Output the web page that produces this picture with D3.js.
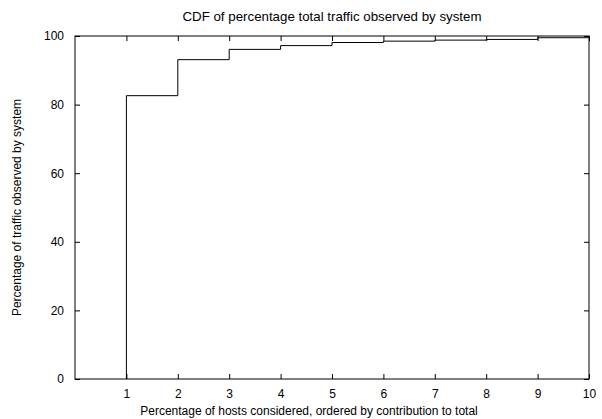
<!DOCTYPE html>
<html>
<head>
<meta charset="utf-8">
<script src="https://cdn.jsdelivr.net/npm/d3@7"></script>
<style>
  html, body { margin: 0; padding: 0; background: #fff; }
  svg text { font-family: "Liberation Sans", Arial, sans-serif; fill: #000; }
</style>
</head>
<body>
<svg id="chart" width="602" height="419"></svg>
<script>
// Data
const hosts = [1, 2, 3, 4, 5, 6, 7, 8, 9, 10];
const traffic = [0, 82.6, 93.1, 96.1, 97.2, 98.1, 98.5, 98.8, 99.0, 99.5];
const xTicks = [1, 2, 3, 4, 5, 6, 7, 8, 9, 10];
const yTicks = [0, 20, 40, 60, 80, 100];
const title = "CDF of percentage total traffic observed by system";
const xLabel = "Percentage of hosts considered, ordered by contribution to total";
const yLabel = "Percentage of traffic observed by system";

const svg = d3.select("#chart");
const margin = { left: 75, right: 13, top: 36, bottom: 40 };
const W = 602, H = 419;
const x = d3.scaleLinear().domain([0, 10]).range([margin.left, W - margin.right]);
const y = d3.scaleLinear().domain([0, 100]).range([H - margin.bottom, margin.top]);

const tickLen = 5;
const fs = 12;

// Bottom axis
const gx = svg.append("g").attr("transform", `translate(0,${y(0)})`)
  .call(d3.axisBottom(x).tickValues(xTicks).tickSizeInner(-tickLen).tickSizeOuter(0).tickPadding(10));
// Top axis ticks
const gxt = svg.append("g").attr("transform", `translate(0,${y(100)})`)
  .call(d3.axisTop(x).tickValues(xTicks).tickSizeInner(-tickLen).tickSizeOuter(0).tickFormat(""));
// Left axis
const gy = svg.append("g").attr("transform", `translate(${x(0)},0)`)
  .call(d3.axisLeft(y).tickValues(yTicks).tickSizeInner(-tickLen).tickSizeOuter(0).tickPadding(11));
// Right axis ticks
const gyr = svg.append("g").attr("transform", `translate(${x(10)},0)`)
  .call(d3.axisRight(y).tickValues(yTicks).tickSizeInner(-tickLen).tickSizeOuter(0).tickFormat(""));

[gx, gxt, gy, gyr].forEach(g => {
  g.select(".domain").remove();
  g.selectAll("line").attr("stroke", "#000").attr("stroke-width", 1);
  g.selectAll("text").attr("font-size", fs).attr("font-family", "Liberation Sans, Arial, sans-serif");
});

// Frame
svg.append("rect")
  .attr("x", x(0)).attr("y", y(100))
  .attr("width", x(10) - x(0)).attr("height", y(0) - y(100))
  .attr("fill", "none").attr("stroke", "#000").attr("stroke-width", 1);

// Step line
const line = d3.line()
  .x((d, i) => x(hosts[i]))
  .y(d => y(d))
  .curve(d3.curveStepBefore);
svg.append("path")
  .attr("d", line(traffic))
  .attr("fill", "none")
  .attr("stroke", "#000")
  .attr("stroke-width", 1);

// Title
svg.append("text")
  .attr("x", (x(0) + x(10)) / 2).attr("y", 20.5)
  .attr("text-anchor", "middle").attr("font-size", 13.3)
  .text(title);

// X label
svg.append("text")
  .attr("x", 309).attr("y", 415)
  .attr("text-anchor", "middle").attr("font-size", fs)
  .text(xLabel);

// Y label
svg.append("text")
  .attr("transform", `translate(21,${(y(0) + y(100)) / 2}) rotate(-90)`)
  .attr("text-anchor", "middle").attr("font-size", fs)
  .text(yLabel);
</script>
</body>
</html>
